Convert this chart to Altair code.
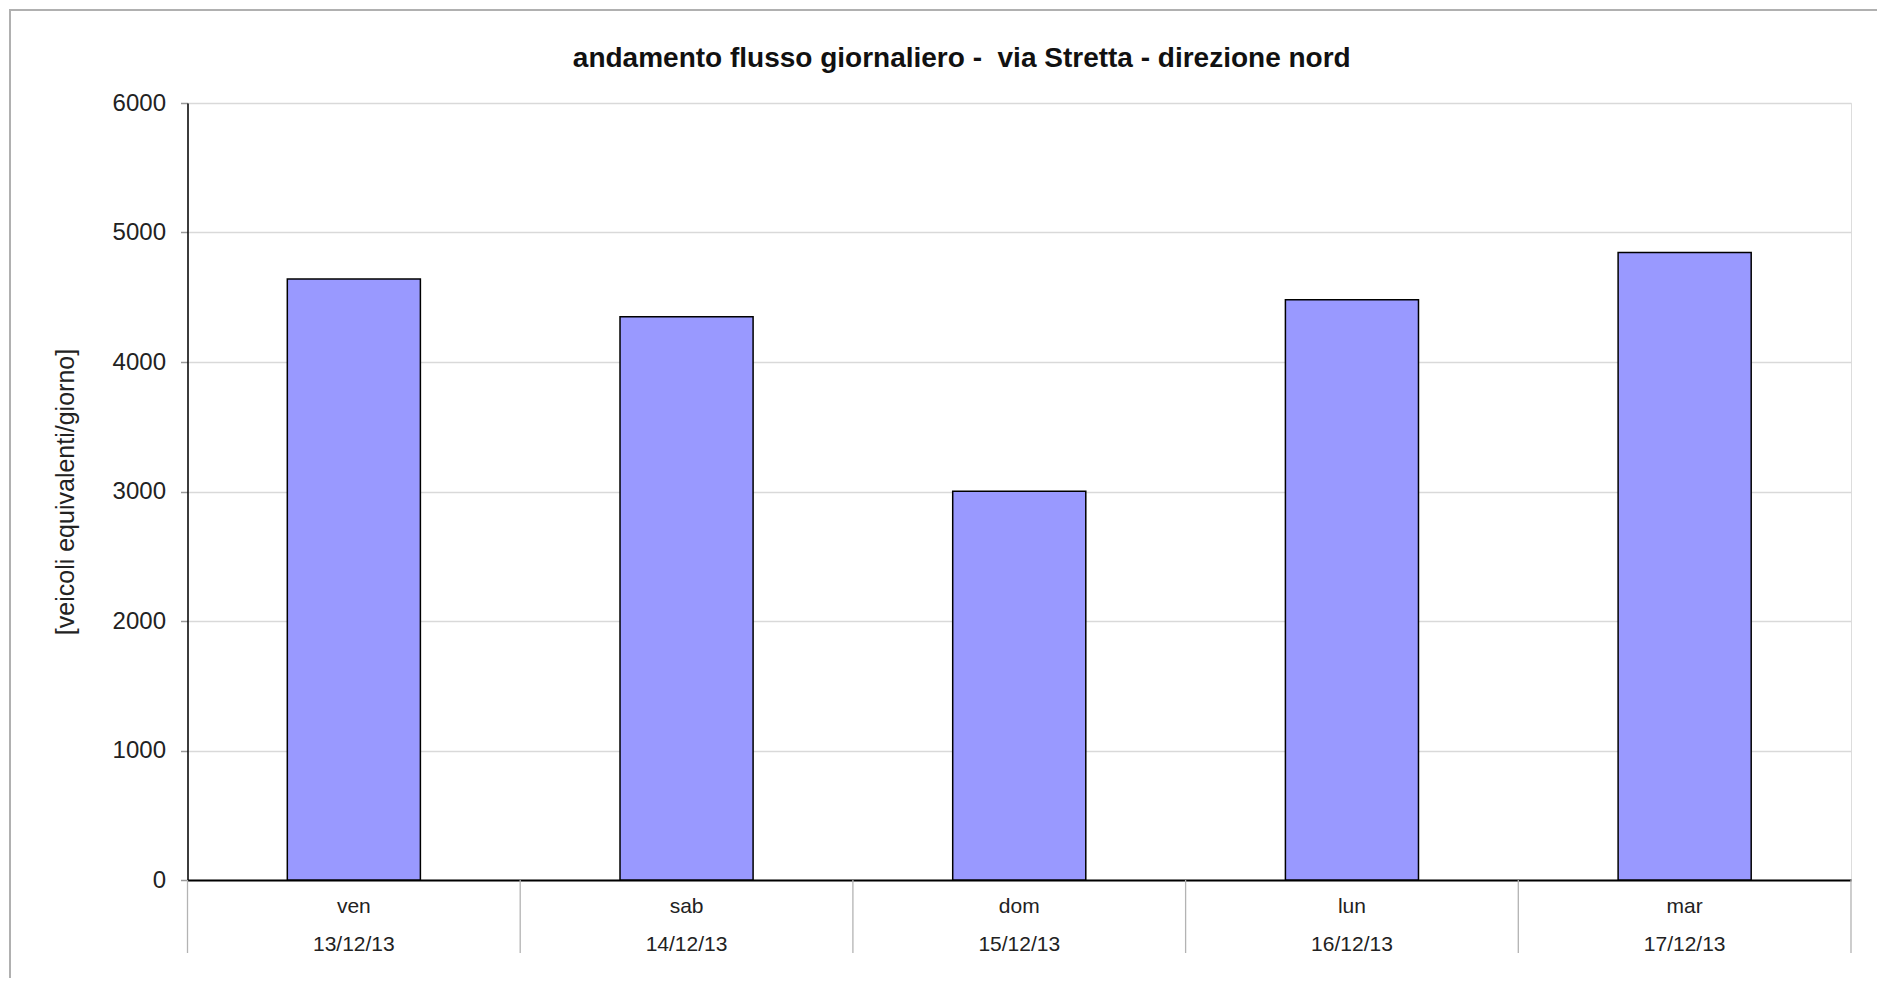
import altair as alt
import pandas as pd

days = ["ven", "sab", "dom", "lun", "mar"]
dates = ["13/12/13", "14/12/13", "15/12/13", "16/12/13", "17/12/13"]
values = [4640, 4350, 3002, 4480, 4845]

title_text = "andamento flusso giornaliero -\u00a0 via Stretta - direzione nord"
y_title = "[veicoli equivalenti/giorno]"
y_ticks = [0, 1000, 2000, 3000, 4000, 5000, 6000]

FONT = "Liberation Sans"
W = 1663.5
H = 777

df = pd.DataFrame({
    "label": [d + "|" + t for d, t in zip(days, dates)],
    "value": values,
})
order = list(df["label"])

x_enc = alt.X(
    "label:N",
    sort=order,
    scale=alt.Scale(paddingInner=0, paddingOuter=0),
    axis=alt.Axis(
        title=None,
        labelAngle=0,
        labelExpr="split(datum.label, '|')",
        labelLineHeight=38,
        labelFontSize=21,
        labelFont=FONT,
        labelColor="#222222",
        labelPadding=15,
        labelBaseline="top",
        ticks=False,
        domainColor="#000000",
        domainWidth=2,
        grid=False,
    ),
)

bars = alt.Chart(df).mark_bar(
    width=alt.RelativeBandSize(0.4),
    color="#9999ff",
    stroke="#000000",
    strokeWidth=1.5,
).encode(
    x=x_enc,
    y=alt.Y(
        "value:Q",
        scale=alt.Scale(domain=[0, 6000], nice=False),
        axis=alt.Axis(
            title=y_title,
            titleFont=FONT,
            titleFontSize=25,
            titleFontWeight="normal",
            titleColor="#222222",
            titlePadding=34,
            values=y_ticks,
            format="d",
            labelFont=FONT,
            labelFontSize=24,
            labelColor="#222222",
            labelPadding=15,
            tickSize=7,
            tickColor="#999999",
            tickWidth=1.5,
            domainColor="#000000",
            domainWidth=1.5,
            gridColor="#d9d9d9",
            gridWidth=1.5,
        ),
    ),
)

seps = alt.Chart(df).mark_rule(color="#b3b3b3", strokeWidth=1.3).encode(
    x=alt.X("label:N", sort=order, bandPosition=0),
    y=alt.value(H),
    y2=alt.value(H + 73),
)

end_sep = alt.Chart(pd.DataFrame({"k": [0]})).mark_rule(color="#b3b3b3", strokeWidth=1.3).encode(
    x=alt.value(W),
    y=alt.value(H),
    y2=alt.value(H + 73),
)

frame = alt.Chart(pd.DataFrame({"k": [0]})).mark_rect(
    fill="#ffffff", fillOpacity=0, stroke="#b0b0b0", strokeWidth=2
).encode(
    x=alt.value(-177.5),
    x2=alt.value(W + 60),
    y=alt.value(-93),
    y2=alt.value(H + 140),
)

chart = alt.layer(frame, bars, seps, end_sep).properties(
    width=W,
    height=H,
    title=alt.TitleParams(
        text=title_text,
        font=FONT,
        fontSize=28,
        fontWeight="bold",
        color="#111111",
        anchor="middle",
        frame="group",
        dx=-57.5,
        baseline="alphabetic",
        offset=0,
        dy=86,
    ),
    padding={"left": 179.5, "top": 95, "right": 26, "bottom": 98},
    autosize=alt.AutoSizeParams(type="none"),
).configure_view(
    stroke="#a6a6a6", strokeWidth=2
).configure(background="#ffffff")

chart.save("out.html", embed_options={"renderer": "svg", "actions": False})
